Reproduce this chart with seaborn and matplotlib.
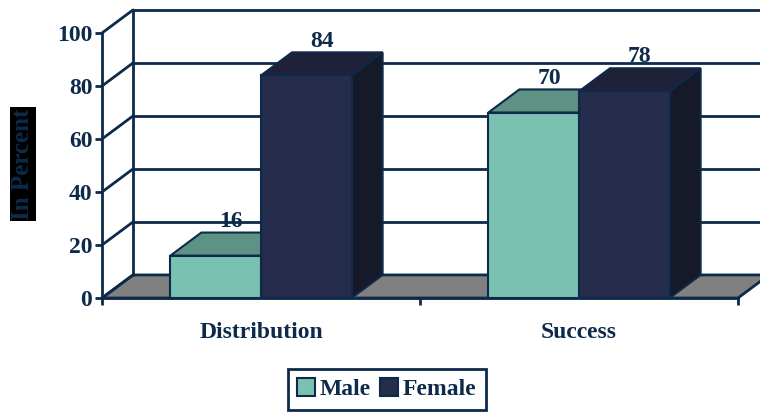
import pandas as pd
import matplotlib
matplotlib.use("Agg")
import matplotlib.pyplot as plt
from matplotlib.patches import Polygon, Patch
import seaborn as sns

# data
categories = ["Distribution", "Success"]
male = [16, 70]
female = [84, 78]
series = ["Male", "Female"]
yticks = [0, 20, 40, 60, 80, 100]

navy = "#0D2A4A"
front = {"Male": "#7AC1B1", "Female": "#262C4B"}
top = {"Male": "#5E9285", "Female": "#1F2138"}
side = {"Male": "#4B776C", "Female": "#161928"}

df = pd.DataFrame({
    "Category": categories * 2,
    "Sex": ["Male"] * 2 + ["Female"] * 2,
    "Value": male + female,
})

sns.set_style("white")
plt.rcParams["font.family"] = ["Liberation Serif", "DejaVu Serif"]
plt.rcParams["font.weight"] = "bold"
fs = 17

fig = plt.figure(figsize=(7.6, 4.13), dpi=100)
ax = fig.add_axes([102 / 760, 115 / 413, 636 / 760, 265 / 413])

sns.barplot(data=df, x="Category", y="Value", hue="Sex", hue_order=series,
            palette=front, saturation=1, width=0.57, edgecolor=navy, linewidth=1.5,
            legend=False, ax=ax)
ax.set_xlim(-0.5, 1.5)
ax.set_ylim(0, 100)

# depth of the fake 3d box, in data units
dx = 31 / 318
dy = 8.7

bars = sorted([p for p in ax.patches if p.get_height() > 0], key=lambda p: p.get_x())
colors = []
for c in categories:
    colors += series  # bars sorted by x: male, female per category

# floor
floor = Polygon([(-0.5, 0), (1.5, 0), (1.5 + dx, dy), (-0.5 + dx, dy)],
                closed=True, facecolor="#808080", edgecolor=navy, lw=2,
                zorder=1, clip_on=False)
ax.add_patch(floor)

# back wall and gridlines
for v in yticks:
    ax.plot([-0.5, -0.5 + dx], [v, v + dy], color=navy, lw=2, zorder=1.5, clip_on=False)
    if v > 0:
        ax.plot([-0.5 + dx, 1.5 + dx + 0.1], [v + dy, v + dy], color=navy, lw=2,
                zorder=0.5, clip_on=False)
ax.plot([-0.5 + dx, -0.5 + dx], [dy, 100 + dy], color=navy, lw=2, zorder=1.5, clip_on=False)

# 3d faces and labels
for i, (p, s) in enumerate(zip(bars, colors)):
    x0, w, h = p.get_x(), p.get_width(), p.get_height()
    x1 = x0 + w
    p.set_zorder(4 + 2 * i)
    ax.add_patch(Polygon([(x0, h), (x1, h), (x1 + dx, h + dy), (x0 + dx, h + dy)],
                         closed=True, facecolor=top[s], edgecolor=navy, lw=1.5,
                         zorder=3 + 2 * i, clip_on=False))
    ax.add_patch(Polygon([(x1, 0), (x1 + dx, dy), (x1 + dx, h + dy), (x1, h)],
                         closed=True, facecolor=side[s], edgecolor=navy, lw=1.5,
                         zorder=3 + 2 * i, clip_on=False))
    ax.text(x0 + w / 2 + dx / 2, h + dy + 0.3, f"{h:.0f}", ha="center", va="bottom",
            fontsize=fs, fontweight="bold", color=navy, zorder=20)

# axes styling
sns.despine(ax=ax, top=True, right=True)
for sp in ["left", "bottom"]:
    ax.spines[sp].set_color(navy)
    ax.spines[sp].set_linewidth(2)
    ax.spines[sp].set_zorder(30)
ax.set_yticks(yticks)
ax.set_xticks([0, 1])
ax.set_xticks([-0.5, 0.5, 1.5], minor=True)
ax.tick_params(axis="y", length=5, width=2, color=navy, labelsize=fs,
               labelcolor=navy, pad=2, left=True)
ax.tick_params(axis="x", which="major", length=0, labelsize=fs, labelcolor=navy, pad=17)
ax.tick_params(axis="x", which="minor", length=5, width=2, color=navy, bottom=True)
for t in ax.get_xticklabels() + ax.get_yticklabels():
    t.set_fontweight("bold")
ax.set_xlabel("")
ax.set_ylabel("")
ax.grid(False)

fig.text(23 / 760, 1 - 164 / 413, "In Percent", rotation=90, ha="center", va="center",
         fontsize=fs + 1, fontweight="bold", color=navy,
         bbox=dict(facecolor="black", edgecolor="none", pad=1))

handles = [Patch(facecolor=front[s], edgecolor=navy, lw=1.5) for s in series]
leg = fig.legend(handles, series, loc="upper left", bbox_to_anchor=(288 / 760, 1 - 369 / 413),
                 ncol=2, frameon=True, fancybox=False, edgecolor=navy, framealpha=1,
                 handlelength=0.75, handleheight=0.75, handletextpad=0.2,
                 columnspacing=0.4, borderpad=0.4, borderaxespad=0,
                 prop={"size": fs, "weight": "bold"})
leg.get_frame().set_linewidth(2)
for t in leg.get_texts():
    t.set_color(navy)

fig.savefig("out.png", dpi=100)
